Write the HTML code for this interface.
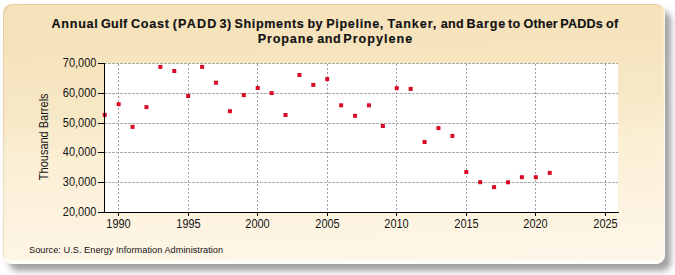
<!DOCTYPE html>
<html><head><meta charset="utf-8"><style>
html,body{margin:0;padding:0;background:#fff;width:675px;height:275px;overflow:hidden}
#shadow{position:absolute;left:9px;top:11px;width:662px;height:260px;border-radius:9px;background:#a2a2a2;filter:blur(3px)}
#card{position:absolute;left:3px;top:4px;width:662px;height:260px;border-radius:9px;box-shadow:inset -1px -3px 2px rgba(255,255,255,0.8),inset 1px 1px 1px rgba(190,170,130,0.35);filter:blur(0.6px);background:linear-gradient(178deg,rgb(246,225,185) 0%,rgb(246,228,190) 22%,rgb(247,232,198) 41%,rgb(251,239,212) 56%,rgb(253,243,224) 79%,rgb(254,247,234) 100%)}
svg{position:absolute;left:0;top:0}
text{font-family:"Liberation Sans",sans-serif}
</style></head><body>
<div id="shadow"></div>
<div id="card"></div>
<svg width="675" height="275" viewBox="0 0 675 275">
<rect x="104" y="63" width="514" height="149" fill="#fff"/>
<g stroke="#ababab" stroke-width="1" stroke-dasharray="3 1" shape-rendering="crispEdges"><line x1="104" y1="63.5" x2="618" y2="63.5"/><line x1="104" y1="93.5" x2="618" y2="93.5"/><line x1="104" y1="123.5" x2="618" y2="123.5"/><line x1="104" y1="152.5" x2="618" y2="152.5"/><line x1="104" y1="182.5" x2="618" y2="182.5"/></g>
<g stroke="#a0a0a0" stroke-width="1" stroke-dasharray="2 2" shape-rendering="crispEdges"><line x1="118.5" y1="64" x2="118.5" y2="212"/><line x1="188.5" y1="64" x2="188.5" y2="212"/><line x1="257.5" y1="64" x2="257.5" y2="212"/><line x1="327.5" y1="64" x2="327.5" y2="212"/><line x1="396.5" y1="64" x2="396.5" y2="212"/><line x1="466.5" y1="64" x2="466.5" y2="212"/><line x1="535.5" y1="64" x2="535.5" y2="212"/><line x1="605.5" y1="64" x2="605.5" y2="212"/></g>
<g fill="#d80a26"><rect x="102.75" y="112.86" width="4.0" height="4.0"/><rect x="116.66" y="102.20" width="4.0" height="4.0"/><rect x="130.56" y="124.90" width="4.0" height="4.0"/><rect x="144.47" y="105.10" width="4.0" height="4.0"/><rect x="158.37" y="64.90" width="4.0" height="4.0"/><rect x="172.27" y="69.00" width="4.0" height="4.0"/><rect x="186.18" y="94.00" width="4.0" height="4.0"/><rect x="200.08" y="64.90" width="4.0" height="4.0"/><rect x="213.99" y="80.70" width="4.0" height="4.0"/><rect x="227.89" y="109.20" width="4.0" height="4.0"/><rect x="241.80" y="93.10" width="4.0" height="4.0"/><rect x="255.70" y="86.00" width="4.0" height="4.0"/><rect x="269.61" y="91.10" width="4.0" height="4.0"/><rect x="283.51" y="113.00" width="4.0" height="4.0"/><rect x="297.42" y="73.00" width="4.0" height="4.0"/><rect x="311.32" y="82.90" width="4.0" height="4.0"/><rect x="325.23" y="77.10" width="4.0" height="4.0"/><rect x="339.13" y="103.30" width="4.0" height="4.0"/><rect x="353.04" y="113.80" width="4.0" height="4.0"/><rect x="366.94" y="103.30" width="4.0" height="4.0"/><rect x="380.85" y="124.00" width="4.0" height="4.0"/><rect x="394.75" y="86.20" width="4.0" height="4.0"/><rect x="408.66" y="86.90" width="4.0" height="4.0"/><rect x="422.56" y="140.00" width="4.0" height="4.0"/><rect x="436.47" y="126.10" width="4.0" height="4.0"/><rect x="450.38" y="133.90" width="4.0" height="4.0"/><rect x="464.28" y="170.00" width="4.0" height="4.0"/><rect x="478.19" y="180.20" width="4.0" height="4.0"/><rect x="492.09" y="185.10" width="4.0" height="4.0"/><rect x="506.00" y="180.30" width="4.0" height="4.0"/><rect x="519.90" y="175.20" width="4.0" height="4.0"/><rect x="533.81" y="175.20" width="4.0" height="4.0"/><rect x="547.71" y="170.90" width="4.0" height="4.0"/></g>
<g stroke="#000" stroke-width="1" shape-rendering="crispEdges">
<line x1="104.5" y1="63" x2="104.5" y2="212"/>
<line x1="98" y1="212.5" x2="619" y2="212.5"/>
<line x1="98" y1="63.5" x2="104" y2="63.5"/><line x1="98" y1="93.5" x2="104" y2="93.5"/><line x1="98" y1="123.5" x2="104" y2="123.5"/><line x1="98" y1="152.5" x2="104" y2="152.5"/><line x1="98" y1="182.5" x2="104" y2="182.5"/><line x1="98" y1="212.5" x2="104" y2="212.5"/><line x1="118.5" y1="212" x2="118.5" y2="216"/><line x1="188.5" y1="212" x2="188.5" y2="216"/><line x1="257.5" y1="212" x2="257.5" y2="216"/><line x1="327.5" y1="212" x2="327.5" y2="216"/><line x1="396.5" y1="212" x2="396.5" y2="216"/><line x1="466.5" y1="212" x2="466.5" y2="216"/><line x1="535.5" y1="212" x2="535.5" y2="216"/><line x1="605.5" y1="212" x2="605.5" y2="216"/>
</g>
<g font-size="11" fill="#141414"><text transform="translate(96.4,67.4) scale(1,1.12)" text-anchor="end">70,000</text><text transform="translate(96.4,97.4) scale(1,1.12)" text-anchor="end">60,000</text><text transform="translate(96.4,127.4) scale(1,1.12)" text-anchor="end">50,000</text><text transform="translate(96.4,156.4) scale(1,1.12)" text-anchor="end">40,000</text><text transform="translate(96.4,186.4) scale(1,1.12)" text-anchor="end">30,000</text><text transform="translate(96.4,216.4) scale(1,1.12)" text-anchor="end">20,000</text><text transform="translate(118.5,227.9) scale(1,1.12)" text-anchor="middle">1990</text><text transform="translate(188.5,227.9) scale(1,1.12)" text-anchor="middle">1995</text><text transform="translate(257.5,227.9) scale(1,1.12)" text-anchor="middle">2000</text><text transform="translate(327.5,227.9) scale(1,1.12)" text-anchor="middle">2005</text><text transform="translate(396.5,227.9) scale(1,1.12)" text-anchor="middle">2010</text><text transform="translate(466.5,227.9) scale(1,1.12)" text-anchor="middle">2015</text><text transform="translate(535.5,227.9) scale(1,1.12)" text-anchor="middle">2020</text><text transform="translate(605.5,227.9) scale(1,1.12)" text-anchor="middle">2025</text></g>
<text font-size="11" fill="#141414" text-anchor="middle" transform="translate(48,136.8) rotate(-90) scale(1,1.15)">Thousand Barrels</text>
<g font-weight="bold" font-size="12.6" fill="#111" stroke="#111" stroke-width="0.15">
<text transform="translate(0,27.9) scale(1,1.04)"><tspan x="51.54" letter-spacing="0.73">Annual</tspan><tspan x="100.94" letter-spacing="0.40">Gulf</tspan><tspan x="130.94" letter-spacing="0.74">Coast</tspan><tspan x="172.71" letter-spacing="1.20">(PADD</tspan><tspan x="219.60" letter-spacing="0.50">3)</tspan><tspan x="234.41" letter-spacing="0.63">Shipments</tspan><tspan x="307.55" letter-spacing="0.20">by</tspan><tspan x="326.15" letter-spacing="0.68">Pipeline,</tspan><tspan x="387.47" letter-spacing="0.96">Tanker,</tspan><tspan x="440.65" letter-spacing="0.35">and</tspan><tspan x="466.43" letter-spacing="0.80">Barge</tspan><tspan x="508.12" letter-spacing="0.30">to</tspan><tspan x="523.47" letter-spacing="0.17">Other</tspan><tspan x="560.23" letter-spacing="0.22">PADDs</tspan><tspan x="606.13" letter-spacing="0.10">of</tspan></text>
<text transform="translate(0,42.7) scale(1,1.04)"><tspan x="257.86" letter-spacing="0.83">Propane</tspan><tspan x="317.34" letter-spacing="0.50">and</tspan><tspan x="343.23" letter-spacing="1.02">Propylene</tspan></text>
</g>
<text transform="translate(29,253.1) scale(1,1.08)" font-size="9.2" letter-spacing="0.035" fill="#141414">Source: U.S. Energy Information Administration</text>
</svg>
</body></html>
